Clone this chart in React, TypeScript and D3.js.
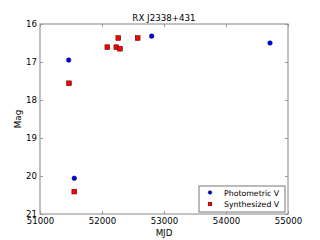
import React, { useEffect, useRef } from 'react';
import * as d3 from 'd3';

const photoMjd = [51463, 52801, 54710, 51553];
const photoMag = [16.95, 16.32, 16.5, 20.06];
const synthMjd = [51468, 52086, 52231, 52263, 52290, 52575, 51553];
const synthMag = [17.56, 16.61, 16.61, 16.37, 16.65, 16.37, 20.41];
const xTicks = [51000, 52000, 53000, 54000, 55000];
const yTicks = [16, 17, 18, 19, 20, 21];

const App = () => {
  const ref = useRef<SVGSVGElement>(null);

  useEffect(() => {
    const svg = d3.select(ref.current);
    svg.selectAll('*').remove();
    const m = { left: 40, right: 32, top: 24, bottom: 26 };
    const W = 320, H = 240;
    const x = d3.scaleLinear().domain([51000, 55000]).range([m.left, W - m.right]);
    const y = d3.scaleLinear().domain([16, 21]).range([m.top, H - m.bottom]);
    const font = 'DejaVu Sans, sans-serif';
    const frame = '#999';

    svg.append('rect').attr('width', W).attr('height', H).attr('fill', '#fff');

    const xa = svg.append('g').attr('transform', `translate(0,${H - m.bottom})`)
      .call(d3.axisBottom(x).tickValues(xTicks).tickFormat(d3.format('d')).tickSizeInner(-3).tickSizeOuter(0).tickPadding(4));
    const ya = svg.append('g').attr('transform', `translate(${m.left},0)`)
      .call(d3.axisLeft(y).tickValues(yTicks).tickFormat(d3.format('d')).tickSizeInner(-3).tickSizeOuter(0).tickPadding(3));
    // top and right ticks
    svg.append('g').attr('transform', `translate(0,${m.top})`)
      .call(d3.axisTop(x).tickValues(xTicks).tickFormat(() => '').tickSizeInner(-3).tickSizeOuter(0));
    svg.append('g').attr('transform', `translate(${W - m.right},0)`)
      .call(d3.axisRight(y).tickValues(yTicks).tickFormat(() => '').tickSizeInner(-3).tickSizeOuter(0));

    svg.selectAll('.domain').remove();
    svg.selectAll('.tick line').attr('stroke', frame);
    [xa, ya].forEach(a => a.selectAll('text').attr('font-family', font).attr('font-size', 8.6).attr('fill', '#000'));

    svg.append('rect')
      .attr('x', m.left).attr('y', m.top)
      .attr('width', W - m.left - m.right).attr('height', H - m.top - m.bottom)
      .attr('fill', 'none').attr('stroke', frame).attr('stroke-width', 1.2);

    svg.append('text').attr('x', (m.left + W - m.right) / 2).attr('y', 21)
      .attr('text-anchor', 'middle').attr('font-family', font).attr('font-size', 8.7).text('RX J2338+431');
    svg.append('text').attr('x', (m.left + W - m.right) / 2).attr('y', 236)
      .attr('text-anchor', 'middle').attr('font-family', font).attr('font-size', 8.7).text('MJD');
    svg.append('text').attr('transform', `translate(21,${(m.top + H - m.bottom) / 2}) rotate(-90)`)
      .attr('text-anchor', 'middle').attr('font-family', font).attr('font-size', 8.7).text('Mag');

    svg.append('g').selectAll('circle').data(photoMjd).join('circle')
      .attr('cx', d => x(d)).attr('cy', (d, i) => y(photoMag[i])).attr('r', 2.3)
      .attr('fill', '#0000ff').attr('stroke', '#000033').attr('stroke-width', 0.5);

    svg.append('g').selectAll('rect').data(synthMjd).join('rect')
      .attr('x', d => x(d) - 2.4).attr('y', (d, i) => y(synthMag[i]) - 2.4)
      .attr('width', 4.8).attr('height', 4.8)
      .attr('fill', '#ff0000').attr('stroke', '#330000').attr('stroke-width', 0.5);

    // legend
    const lg = svg.append('g').attr('transform', 'translate(199,186)');
    lg.append('rect').attr('width', 86).attr('height', 26)
      .attr('fill', '#fff').attr('stroke', '#777').attr('stroke-width', 1);
    lg.append('circle').attr('cx', 11).attr('cy', 6.5).attr('r', 1.8)
      .attr('fill', '#0000ff').attr('stroke', '#000033').attr('stroke-width', 0.5);
    lg.append('rect').attr('x', 9.2).attr('y', 16.2).attr('width', 3.6).attr('height', 3.6)
      .attr('fill', '#ff0000').attr('stroke', '#330000').attr('stroke-width', 0.5);
    lg.append('text').attr('x', 25).attr('y', 9.5).attr('font-family', font).attr('font-size', 7.8).text('Photometric V');
    lg.append('text').attr('x', 25).attr('y', 21.3).attr('font-family', font).attr('font-size', 7.8).text('Synthesized V');
  }, []);

  return (
    <svg ref={ref} width={320} height={240}
      style={{ position: 'absolute', left: 0, top: 0, display: 'block' }} />
  );
};

export default App;
